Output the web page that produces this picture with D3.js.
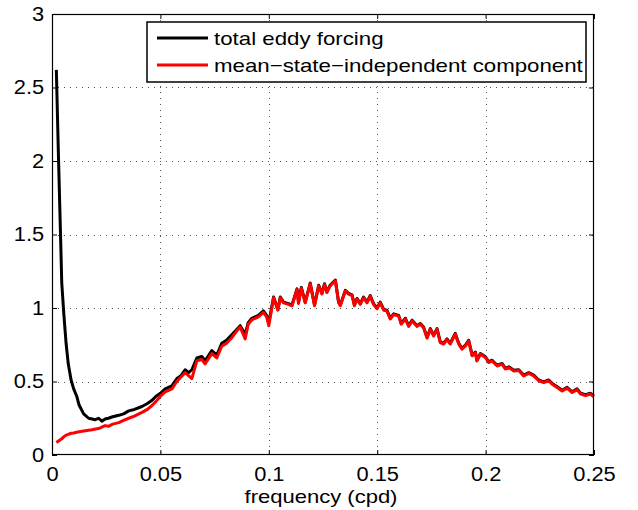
<!DOCTYPE html>
<html><head><meta charset="utf-8">
<script src="https://cdn.jsdelivr.net/npm/d3@7/dist/d3.min.js"></script>
<style>body{margin:0;background:#fff}svg{display:block}text{font-family:"Liberation Sans",Arial,Helvetica,sans-serif}</style>
</head><body>
<script>
const freq = [0.002,0.003,0.004,0.0045,0.0055,0.0065,0.0075,0.0088,0.0100,0.0114,0.0125,0.0146,0.0169,0.0185,0.020,0.0215,0.023,0.0245,0.026,0.028,0.0308,0.033,0.0354,0.038,0.0415,0.044,0.046,0.048,0.050,0.0522,0.0553,0.0576,0.0595,0.0614,0.0630,0.0645,0.0668,0.0691,0.0706,0.0737,0.0760,0.0783,0.0805,0.0830,0.0850,0.0868,0.0891,0.0905,0.0922,0.0952,0.0975,0.0990,0.1000,0.1022,0.1042,0.1053,0.1068,0.1091,0.1107,0.1130,0.1137,0.1150,0.1168,0.1191,0.1211,0.1230,0.1245,0.1257,0.1268,0.1283,0.1307,0.1322,0.1330,0.1353,0.1368,0.1384,0.1395,0.1407,0.1422,0.1437,0.1453,0.1468,0.1483,0.1499,0.1514,0.1530,0.1545,0.1560,0.1576,0.1599,0.1611,0.1630,0.1645,0.1661,0.1684,0.1699,0.1714,0.1730,0.1745,0.1760,0.1776,0.1791,0.1806,0.1822,0.1837,0.1860,0.1876,0.1891,0.1907,0.1922,0.1938,0.1953,0.1960,0.1976,0.1999,0.2014,0.2030,0.2053,0.2076,0.2091,0.2107,0.2130,0.2153,0.2176,0.2199,0.2222,0.2245,0.2268,0.2291,0.2307,0.2330,0.2353,0.2376,0.2399,0.2422,0.2438,0.2461,0.2484,0.2499];
const totalEddy = [2.62,2.02,1.46,1.17,0.95,0.76,0.62,0.51,0.45,0.40,0.34,0.28,0.25,0.245,0.24,0.25,0.23,0.245,0.25,0.26,0.27,0.28,0.30,0.31,0.33,0.35,0.37,0.40,0.42,0.45,0.47,0.52,0.54,0.58,0.56,0.58,0.66,0.67,0.64,0.71,0.68,0.76,0.78,0.82,0.85,0.88,0.82,0.90,0.93,0.95,0.98,0.95,0.90,1.075,0.99,1.075,1.04,1.03,1.02,1.13,1.04,1.14,1.04,1.17,1.02,1.155,1.10,1.165,1.11,1.155,1.19,1.04,1.02,1.12,1.10,1.09,1.02,1.065,1.03,1.075,1.04,1.085,1.03,1.00,1.04,0.99,0.985,0.93,0.96,0.95,0.895,0.93,0.88,0.917,0.88,0.895,0.87,0.80,0.86,0.815,0.86,0.77,0.76,0.79,0.76,0.827,0.76,0.725,0.747,0.78,0.68,0.70,0.645,0.69,0.668,0.634,0.645,0.61,0.623,0.59,0.60,0.577,0.58,0.543,0.56,0.543,0.51,0.498,0.51,0.487,0.464,0.44,0.46,0.43,0.45,0.42,0.41,0.42,0.40];
const meanIndep = [0.085,0.095,0.105,0.11,0.125,0.135,0.14,0.148,0.15,0.155,0.158,0.163,0.168,0.172,0.177,0.18,0.19,0.2,0.195,0.21,0.22,0.235,0.25,0.265,0.29,0.31,0.335,0.365,0.40,0.43,0.45,0.50,0.53,0.56,0.54,0.52,0.64,0.65,0.62,0.69,0.66,0.74,0.76,0.80,0.84,0.87,0.79,0.89,0.92,0.94,0.97,0.94,0.88,1.07,0.985,1.07,1.035,1.025,1.015,1.125,1.03,1.135,1.035,1.165,1.015,1.15,1.095,1.16,1.105,1.15,1.185,1.035,1.015,1.115,1.095,1.085,1.015,1.06,1.025,1.07,1.035,1.08,1.025,0.995,1.035,0.985,0.98,0.925,0.955,0.945,0.89,0.925,0.875,0.912,0.875,0.89,0.865,0.795,0.855,0.81,0.855,0.765,0.755,0.785,0.755,0.822,0.755,0.72,0.742,0.775,0.675,0.695,0.64,0.685,0.663,0.629,0.64,0.605,0.618,0.585,0.595,0.572,0.575,0.538,0.555,0.538,0.505,0.493,0.505,0.482,0.459,0.435,0.455,0.425,0.445,0.415,0.405,0.415,0.395];
const xTicks = [0,0.05,0.1,0.15,0.2,0.25];
const xTickLabels = ["0","0.05","0.1","0.15","0.2","0.25"];
const yTicks = [0,0.5,1,1.5,2,2.5,3];
const yTickLabels = ["0","0.5","1","1.5","2","2.5","3"];
const seriesNames = ["total eddy forcing","mean\u2212state\u2212independent component"];
const seriesColors = ["#000000","#ff0000"];
const xLabel = "frequency (cpd)";

const W=638,H=510;
const L=52,R=594,T=14,B=455;
const svg=d3.select("body").append("svg").attr("width",W).attr("height",H);
const x=d3.scaleLinear().domain([0,0.25]).range([L,R]);
const y=d3.scaleLinear().domain([0,3]).range([B,T]);
const FS=19.5, SX=1.12;

// grid
const grid=svg.append("g").attr("stroke","#555").attr("stroke-width",1).attr("stroke-dasharray","1,5");
grid.selectAll("line.v").data(xTicks.slice(1,-1)).join("line").attr("class","v")
  .attr("x1",d=>Math.round(x(d))+0.5).attr("x2",d=>Math.round(x(d))+0.5).attr("y1",T).attr("y2",B);
grid.selectAll("line.h").data(yTicks.slice(1,-1)).join("line").attr("class","h")
  .attr("y1",d=>Math.round(y(d))+0.5).attr("y2",d=>Math.round(y(d))+0.5).attr("x1",L).attr("x2",R);

// lines
const line=d3.line().x((d,i)=>x(freq[i])).y(d=>y(d));
[totalEddy,meanIndep].forEach((s,k)=>{
  svg.append("path").datum(s).attr("d",line).attr("fill","none")
    .attr("stroke",seriesColors[k]).attr("stroke-width",3).attr("stroke-linejoin","round");
});

// axes
svg.append("g").attr("transform",`translate(0,${B})`)
  .call(d3.axisBottom(x).tickValues(xTicks).tickFormat((d,i)=>xTickLabels[i]).tickSizeInner(-5).tickSizeOuter(0).tickPadding(12));
svg.append("g").attr("transform",`translate(${L},0)`)
  .call(d3.axisLeft(y).tickValues(yTicks).tickFormat((d,i)=>yTickLabels[i]).tickSizeInner(-5).tickSizeOuter(0).tickPadding(7));
svg.append("g").attr("transform",`translate(0,${T})`)
  .call(d3.axisTop(x).tickValues(xTicks).tickFormat("").tickSizeInner(-5).tickSizeOuter(0));
svg.append("g").attr("transform",`translate(${R},0)`)
  .call(d3.axisRight(y).tickValues(yTicks).tickFormat("").tickSizeInner(-5).tickSizeOuter(0));
svg.selectAll(".domain").remove();
svg.selectAll(".tick line").attr("stroke","#000");
svg.selectAll(".tick text").attr("font-size",FS).attr("fill","#000")
  .attr("font-family",'"Liberation Sans",Arial,sans-serif').attr("transform",`scale(${SX},1)`);
svg.append("rect").attr("x",L+0.5).attr("y",T+0.5).attr("width",R-L-1).attr("height",B-T-1)
  .attr("fill","none").attr("stroke","#000").attr("stroke-width",1.2);

// x label
svg.append("g").attr("transform",`translate(${(L+R)/2 - 2},503) scale(1.19,1)`)
  .append("text").attr("text-anchor","middle").attr("font-size",18.5).text(xLabel);

// legend
const lg=svg.append("g");
lg.append("rect").attr("x",147).attr("y",22).attr("width",439).attr("height",60)
  .attr("fill","#fff").attr("stroke","#000").attr("stroke-width",1.5);
seriesNames.forEach((n,i)=>{
  const cy=[38,65][i];
  lg.append("line").attr("x1",157).attr("x2",208).attr("y1",cy).attr("y2",cy)
    .attr("stroke",seriesColors[i]).attr("stroke-width",3);
  lg.append("g").attr("transform",`translate(214,${cy+7}) scale(1.16,1)`)
    .append("text").attr("font-size",19.2).text(n);
});
</script>
</body></html>
